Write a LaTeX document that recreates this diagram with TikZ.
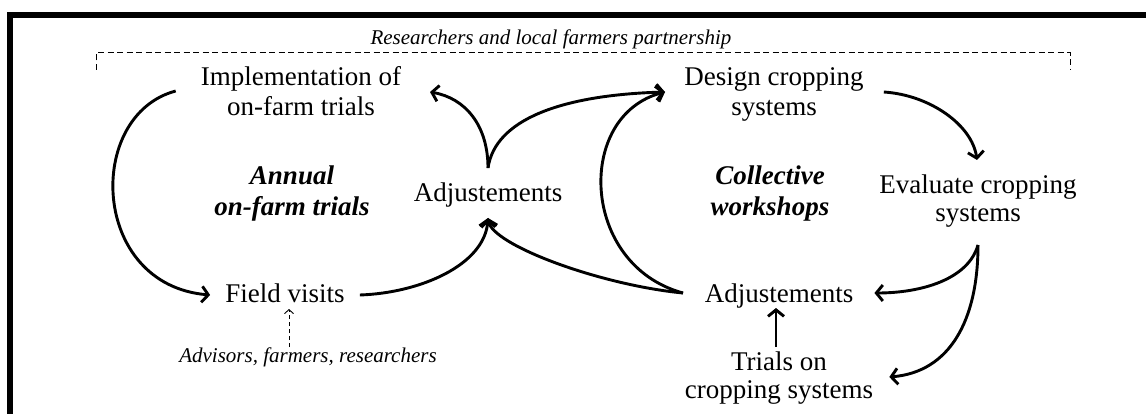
\documentclass[tikz,border=0pt]{standalone}
\usepackage{fontspec}
\setmainfont{Liberation Serif}
\usetikzlibrary{arrows.meta,calc}
\begin{document}
\begin{tikzpicture}[x=1pt,y=-1pt,
  txt/.style={font=\fontsize{27}{30}\selectfont, inner sep=0pt, align=center, anchor=base},
  txttight/.style={txt, font=\fontsize{27}{28}\selectfont},
  boldlbl/.style={txt, font=\fontsize{27}{32}\selectfont\bfseries\itshape},
  note/.style={font=\fontsize{21}{24}\selectfont\itshape, inner sep=0pt, anchor=base},
  flow/.style={line width=2.9pt, -{Straight Barb[length=6.5pt,width=16pt]}},
  hint/.style={line width=0.9pt, dash pattern=on 4pt off 3pt, -{Straight Barb[length=4pt,width=9pt]}},
  bracket/.style={line width=1pt, dash pattern=on 6pt off 3.5pt},
  frame/.style={line width=6pt, line cap=butt}]
\useasboundingbox (0,0) rectangle (1146,414);
% frame
\coordinate (fr1) at (1146,15);
\coordinate (fr2) at (10,15);
\coordinate (fr3) at (10,414);
\draw[frame] (fr1) -- (fr2) -- (fr3);
% partnership bracket
\node[note] (partner) at (551,45) {Researchers and local farmers partnership};
\coordinate (brL) at (96,70);
\coordinate (brLt) at (96,53);
\coordinate (brRt) at (1070,53);
\coordinate (brR) at (1070,70);
\draw[bracket] (brL) -- (brLt) -- (brRt) -- (brR);
% nodes (multi-line nodes are placed at the baseline of their last line)
\node[txt] (impl) at (301,116) {Implementation of\\on-farm trials};
\node[txt] (design) at (774,116) {Design cropping\\systems};
\node[boldlbl] (annual) at (292,216) {Annual\\on-farm trials};
\node[boldlbl] (coll) at (770,216) {Collective\\workshops};
\node[txt] (adjL) at (488,202) {Adjustements};
\node[txttight] (eval) at (978,222) {Evaluate cropping\\systems};
\node[txt] (field) at (285,302) {Field visits};
\node[txt] (adjR) at (779,302) {Adjustements};
\node[txttight] (trials) at (779,398) {Trials on\\cropping systems};
\node[note] (advis) at (308,362) {Advisors, farmers, researchers};
% junction points
\coordinate (cusL) at (488,168);
\coordinate (cusR) at (683,293);
\coordinate (evalOut) at (978,245);
\coordinate (implIn) at (430,92);
\coordinate (designIn) at (665,92);
\coordinate (adjLIn) at (488,218);
% connectors
\draw[flow] ($(impl.base west)+(-25,-25)$) .. controls (85,115) and (90,285) .. ($(field.base west)+(-15,-7)$);
\draw[flow] ($(field.base east)+(15,-7)$) .. controls (420,293) and (485,265) .. (adjLIn);
\draw[flow] (cusR) .. controls (600,285) and (492,245) .. (adjLIn);
\draw[flow] (cusL) .. controls (488,125) and (465,98) .. (implIn);
\draw[flow] (cusL) .. controls (495,120) and (560,95) .. (designIn);
\draw[flow] (cusR) .. controls (580,265) and (575,115) .. (designIn);
\draw[flow] ($(design.base east)+(20,-24)$) .. controls (930,95) and (972,125) .. ($(eval.base)+(-1,-62)$);
\draw[flow] (evalOut) .. controls (968,280) and (920,293) .. ($(adjR.base east)+(21,-9)$);
\draw[flow] (evalOut) .. controls (978,320) and (950,372) .. ($(trials.base east)+(16,-21)$);
\draw[flow] ($(trials.base)+(-3,-51)$) -- ($(adjR.base)+(-3,6)$);
\draw[hint] ($(advis.base)+(-19,-15)$) -- ($(field.base)+(4,7)$);
\end{tikzpicture}
\end{document}
